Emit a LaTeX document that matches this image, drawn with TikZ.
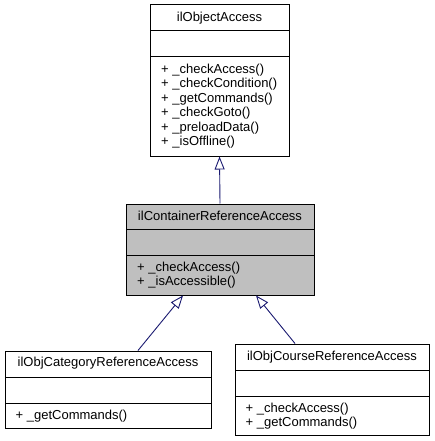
\documentclass[tikz,border=0pt]{standalone}
\usepackage{fontspec}
\setmainfont{Liberation Sans}
\usetikzlibrary{arrows.meta}
\definecolor{edgeblue}{HTML}{191970}
\definecolor{curgray}{HTML}{BFBFBF}
\begin{document}
\begin{tikzpicture}[x=1pt,y=-1pt,line join=miter,font=\fontsize{13}{14.5}\selectfont,
	cls/.style={draw=black,fill=white,line width=1pt,inner sep=0pt},
	title/.style={inner sep=0pt,anchor=center},
	meth/.style={inner sep=0pt,anchor=north west,align=left},
	inh/.style={draw=edgeblue,line width=0.9pt,-{Triangle[open,length=13pt,width=10pt]}}]
	\useasboundingbox (0,0) rectangle (435,441);
	% base class
	\node[cls,minimum width=139pt,minimum height=151pt] (objacc) at (219.5,80.5) {};
	\draw[line width=1pt] (150,31)--(289,31) (150,57)--(289,57);
	\node[title] (objacct) at (219.5,18) {ilObjectAccess};
	\node[meth] (objaccm) at (161,63.5) {+ \_checkAccess()\\+ \_checkCondition()\\+ \_getCommands()\\+ \_checkGoto()\\+ \_preloadData()\\+ \_isOffline()};
	% container reference access
	\node[cls,fill=curgray,minimum width=188pt,minimum height=91pt] (contacc) at (220,249.5) {};
	\draw[line width=1pt] (126,229)--(314,229) (126,255)--(314,255);
	\node[title] (contacct) at (220,216) {ilContainerReferenceAccess};
	\node[meth] (contaccm) at (137,261.5) {+ \_checkAccess()\\+ \_isAccessible()};
	% category
	\node[cls,minimum width=206pt,minimum height=77pt] (catacc) at (108,389.5) {};
	\draw[line width=1pt] (5,377)--(211,377) (5,403)--(211,403);
	\node[title] (catacct) at (108,363.5) {ilObjCategoryReferenceAccess};
	\node[meth] (cataccm) at (15.5,409.5) {+ \_getCommands()};
	% course
	\node[cls,minimum width=194pt,minimum height=91pt] (crsacc) at (332,389.5) {};
	\draw[line width=1pt] (235,370)--(429,370) (235,396)--(429,396);
	\node[title] (crsacct) at (332,357) {ilObjCourseReferenceAccess};
	\node[meth] (crsaccm) at (245.5,402.5) {+ \_checkAccess()\\+ \_getCommands()};
	% inheritance
	\draw[inh] (contacc.north)--(objacc.south);
	\draw[inh] ([xshift=30pt]catacc.north)--([xshift=-37pt]contacc.south);
	\draw[inh] ([xshift=-37pt]crsacc.north)--([xshift=36pt]contacc.south);
\end{tikzpicture}
\end{document}
